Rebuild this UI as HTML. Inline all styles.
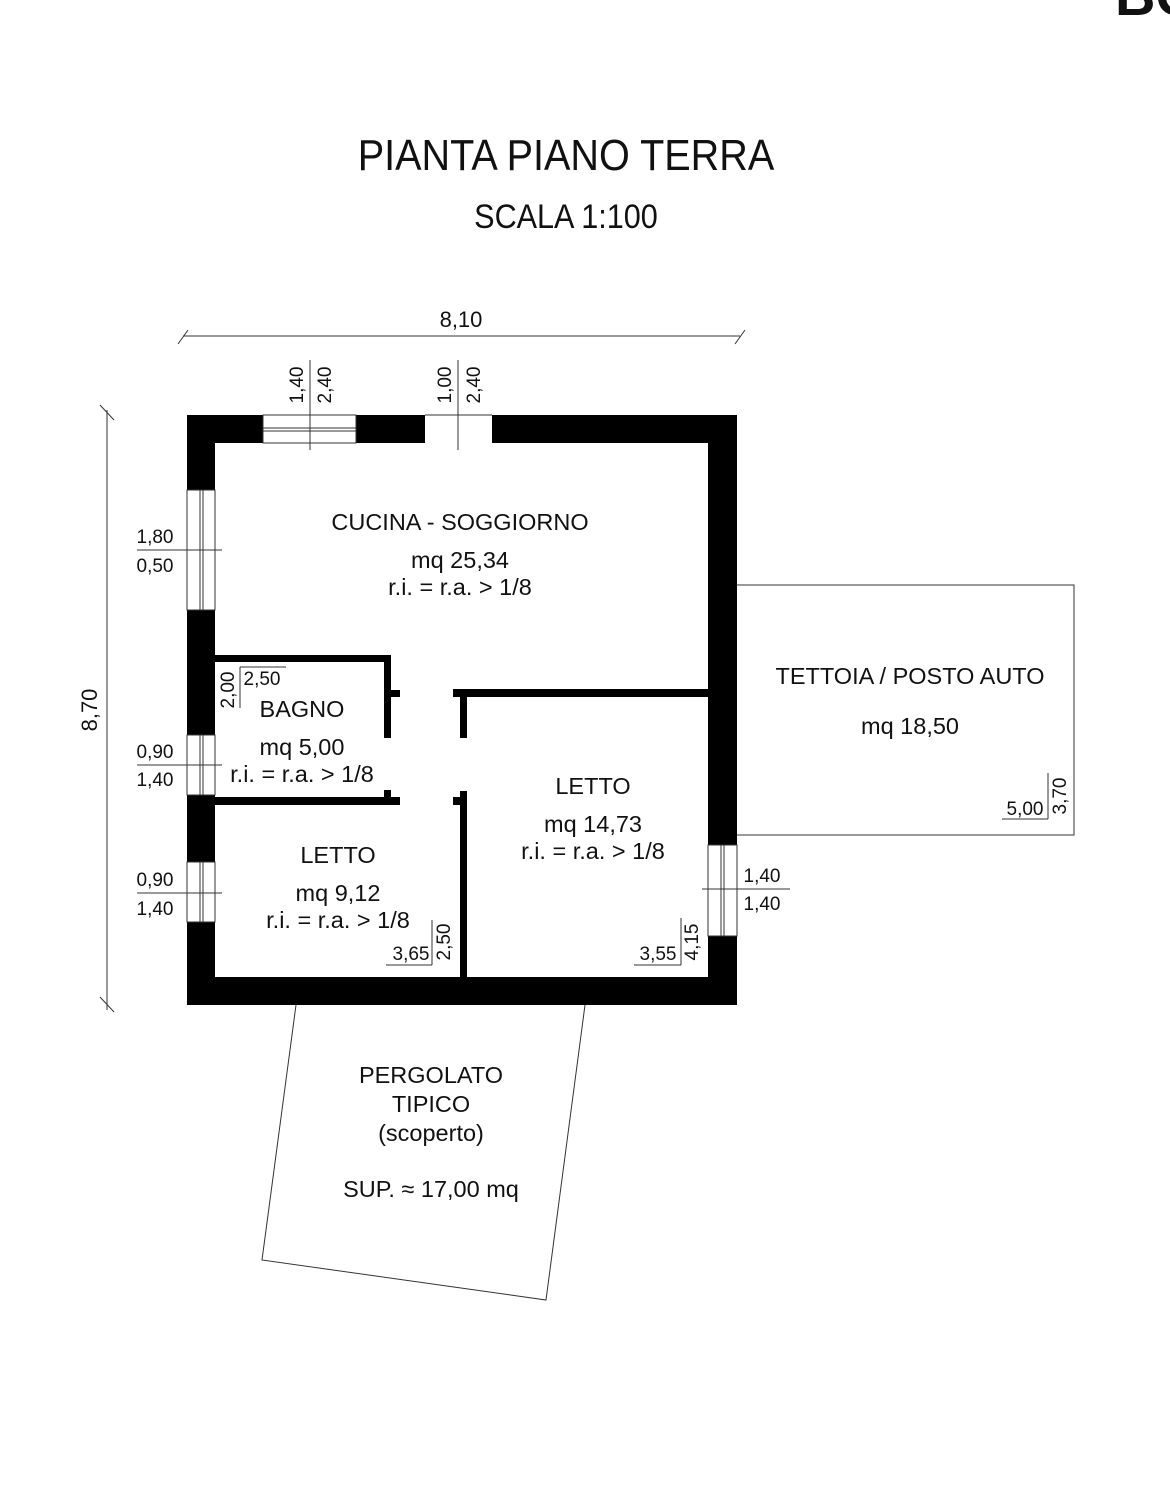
<!DOCTYPE html>
<html><head><meta charset="utf-8"><style>
html,body{margin:0;padding:0;background:#fff;}
svg{display:block;}
text{font-family:"Liberation Sans",sans-serif;fill:#111;}
</style></head><body>
<svg width="1170" height="1497" viewBox="0 0 1170 1497" xmlns="http://www.w3.org/2000/svg">
<rect width="1170" height="1497" fill="#fff"/>
<text x="1115" y="15" font-size="56" font-weight="bold">BO</text>
<text x="566" y="170" font-size="44" text-anchor="middle" transform="translate(566 0) scale(0.9 1) translate(-566 0)">PIANTA PIANO TERRA</text>
<text x="566" y="228" font-size="34" text-anchor="middle" transform="translate(566 0) scale(0.9 1) translate(-566 0)">SCALA 1:100</text>

<g stroke="#333" stroke-width="1" fill="none">
<line x1="183" y1="336" x2="740" y2="336"/>
<line x1="178" y1="344" x2="188" y2="330"/>
<line x1="735" y1="344" x2="745" y2="330"/>
<line x1="107" y1="410" x2="107" y2="1010"/>
<line x1="100" y1="405" x2="114" y2="420"/>
<line x1="100" y1="997" x2="114" y2="1012"/>
<polyline points="737,585 1074,585 1074,835 737,835"/>
<polyline points="296,1005 262,1260 546,1300 585,1005"/>
</g>
<text x="461" y="327" font-size="22" text-anchor="middle">8,10</text>
<text transform="translate(97 710) rotate(-90)" font-size="22" text-anchor="middle">8,70</text>

<g fill="#000">
<rect x="187" y="415" width="76" height="28"/>
<rect x="356" y="415" width="69" height="28"/>
<rect x="492" y="415" width="245" height="28"/>
<rect x="187" y="415" width="28" height="75"/>
<rect x="187" y="610" width="28" height="125"/>
<rect x="187" y="795" width="28" height="67"/>
<rect x="187" y="922" width="28" height="83"/>
<rect x="187" y="977" width="550" height="28"/>
<rect x="708" y="415" width="29" height="430"/>
<rect x="708" y="936" width="29" height="69"/>
<rect x="215" y="655" width="176" height="7"/>
<rect x="384" y="655" width="7" height="83"/>
<rect x="391" y="690" width="9" height="7"/>
<rect x="215" y="797" width="185" height="8"/>
<rect x="384" y="790" width="7" height="15"/>
<rect x="453" y="689" width="255" height="8"/>
<rect x="460" y="689" width="7" height="49"/>
<rect x="460" y="791" width="7" height="186"/>
<rect x="453" y="797" width="8" height="8"/>
</g>

<g stroke="#333" stroke-width="1" fill="none">
<rect x="263" y="415" width="93" height="28"/>
<line x1="263" y1="428" x2="356" y2="428"/>
<line x1="263" y1="431" x2="356" y2="431"/>
<line x1="310" y1="360" x2="310" y2="450"/>
<line x1="425" y1="415" x2="492" y2="415"/>
<line x1="458" y1="360" x2="458" y2="450"/>
<rect x="187" y="490" width="28" height="120"/>
<line x1="200" y1="490" x2="200" y2="610"/>
<line x1="203" y1="490" x2="203" y2="610"/>
<line x1="137" y1="550" x2="222" y2="550"/>
<rect x="187" y="735" width="28" height="60"/>
<line x1="200" y1="735" x2="200" y2="795"/>
<line x1="203" y1="735" x2="203" y2="795"/>
<line x1="137" y1="765" x2="222" y2="765"/>
<rect x="187" y="862" width="28" height="60"/>
<line x1="200" y1="862" x2="200" y2="922"/>
<line x1="203" y1="862" x2="203" y2="922"/>
<line x1="137" y1="893" x2="222" y2="893"/>
<rect x="708" y="845" width="29" height="91"/>
<line x1="721" y1="845" x2="721" y2="936"/>
<line x1="724" y1="845" x2="724" y2="936"/>
<line x1="702" y1="889" x2="790" y2="889"/>
<polyline points="240,667 240,708"/>
<line x1="240" y1="667" x2="286" y2="667"/>
<line x1="386" y1="965" x2="432" y2="965"/>
<line x1="432" y1="920" x2="432" y2="965"/>
<line x1="634" y1="965" x2="681" y2="965"/>
<line x1="681" y1="918" x2="681" y2="965"/>
<line x1="1002" y1="819" x2="1048" y2="819"/>
<line x1="1048" y1="773" x2="1048" y2="819"/>
</g>

<g font-size="19">
<text transform="translate(303 385) rotate(-90)" text-anchor="middle">1,40</text>
<text transform="translate(331 385) rotate(-90)" text-anchor="middle">2,40</text>
<text transform="translate(451 385) rotate(-90)" text-anchor="middle">1,00</text>
<text transform="translate(480 385) rotate(-90)" text-anchor="middle">2,40</text>
<text x="155" y="543" text-anchor="middle">1,80</text>
<text x="155" y="572" text-anchor="middle">0,50</text>
<text x="155" y="758" text-anchor="middle">0,90</text>
<text x="155" y="786" text-anchor="middle">1,40</text>
<text x="155" y="886" text-anchor="middle">0,90</text>
<text x="155" y="915" text-anchor="middle">1,40</text>
<text x="762" y="882" text-anchor="middle">1,40</text>
<text x="762" y="910" text-anchor="middle">1,40</text>
<text x="262" y="685" text-anchor="middle">2,50</text>
<text transform="translate(234 690) rotate(-90)" text-anchor="middle">2,00</text>
<text x="411" y="960" text-anchor="middle">3,65</text>
<text transform="translate(450 942) rotate(-90)" text-anchor="middle">2,50</text>
<text x="658" y="960" text-anchor="middle">3,55</text>
<text transform="translate(698 942) rotate(-90)" text-anchor="middle">4,15</text>
<text x="1025" y="815" text-anchor="middle">5,00</text>
<text transform="translate(1066 796) rotate(-90)" text-anchor="middle">3,70</text>
</g>

<g font-size="23.5" text-anchor="middle">
<text x="460" y="530">CUCINA - SOGGIORNO</text>
<text x="460" y="568">mq 25,34</text>
<text x="460" y="595">r.i. = r.a. &gt; 1/8</text>
<text x="302" y="717">BAGNO</text>
<text x="302" y="755">mq 5,00</text>
<text x="302" y="782">r.i. = r.a. &gt; 1/8</text>
<text x="338" y="863">LETTO</text>
<text x="338" y="901">mq 9,12</text>
<text x="338" y="928">r.i. = r.a. &gt; 1/8</text>
<text x="593" y="794">LETTO</text>
<text x="593" y="832">mq 14,73</text>
<text x="593" y="859">r.i. = r.a. &gt; 1/8</text>
<text x="910" y="684">TETTOIA / POSTO AUTO</text>
<text x="910" y="734">mq 18,50</text>
<text x="431" y="1083">PERGOLATO</text>
<text x="431" y="1112">TIPICO</text>
<text x="431" y="1141">(scoperto)</text>
<text x="431" y="1197">SUP. ≈ 17,00 mq</text>
</g>
</svg>
</body></html>
